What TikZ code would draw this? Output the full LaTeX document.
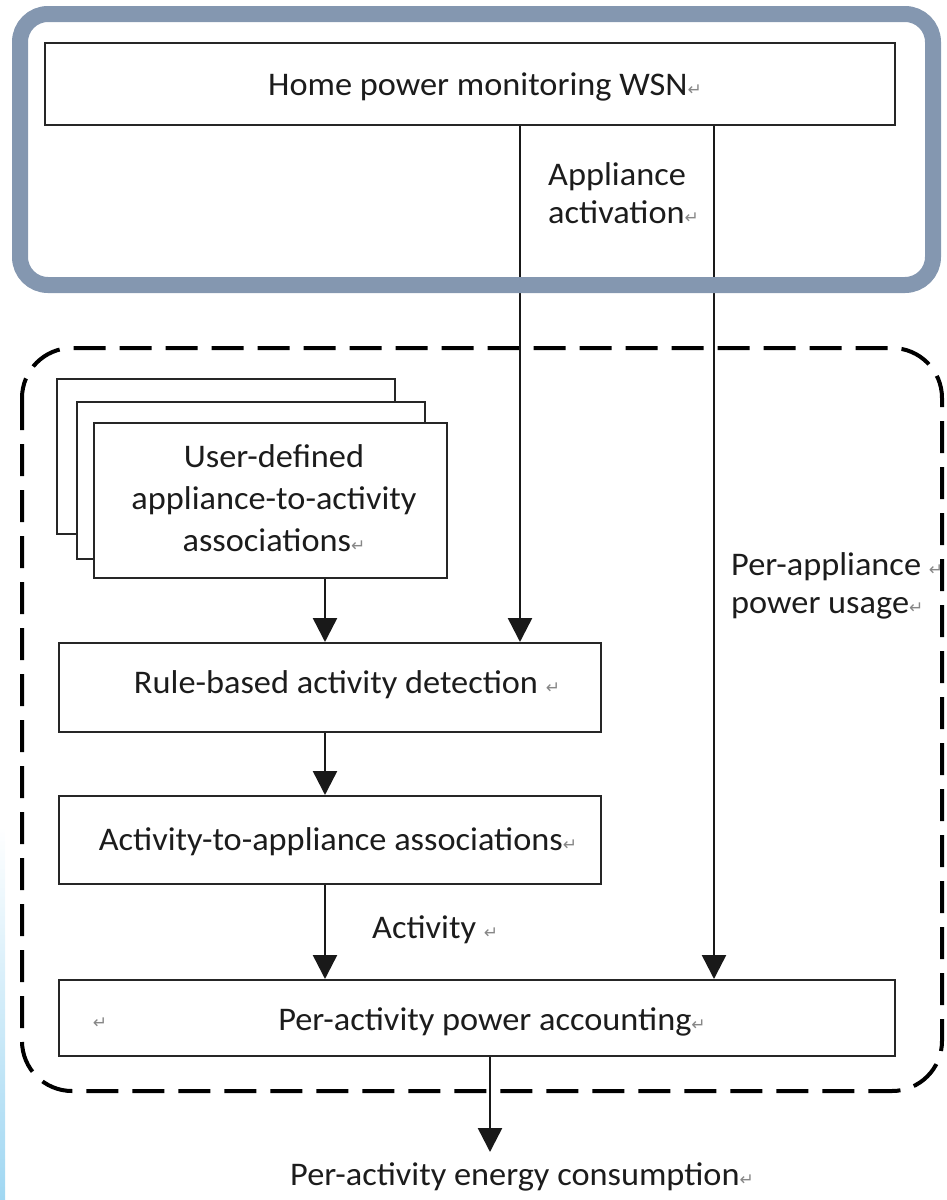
\documentclass[tikz,border=0pt]{standalone}
\usepackage{fontspec}
\setmainfont{Carlito}[FakeStretch=1.04]
\newfontfamily\dvsfont{DejaVu Sans}
\usetikzlibrary{arrows.meta}
\definecolor{frameblue}{RGB}{132,151,176}
\definecolor{markgray}{RGB}{135,135,135}
\definecolor{inkc}{RGB}{28,28,28}
\definecolor{stripblue}{RGB}{160,215,242}
\newcommand\retmark{{\dvsfont\color{markgray}\fontsize{17}{17}\selectfont ↵}}
\begin{document}
\begin{tikzpicture}[x=1pt,y=-1pt,
  box/.style={draw=black!85, line width=2pt, fill=white, inner sep=0pt},
  txt/.style={font=\fontsize{33}{40}\selectfont, inner sep=0pt, text=inkc},
  arr/.style={draw=black!90, line width=2.5pt, -{Triangle[width=24pt,length=24pt]}}]
\useasboundingbox (0,0) rectangle (946,1200);
\shade[top color=white, bottom color=stripblue] (0,827) rectangle (5,1200);

% dashed group frame
\draw[line width=4pt, dash pattern=on 32pt off 14pt, rounded corners=50pt] (22,348) rectangle (942,1091);

% column coordinates
\coordinate (colA) at (325,0);
\coordinate (colB) at (520,0);
\coordinate (colC) at (714,0);
\coordinate (colD) at (490,0);

% boxes
\node[box, minimum width=850pt, minimum height=82pt] (wsn) at (470,84) {};
\node[box, minimum width=338pt, minimum height=155pt] (uback) at (226,456.5) {};
\node[box, minimum width=348pt, minimum height=157pt] (umid) at (251,480.5) {};
\node[box, minimum width=353pt, minimum height=155pt] (ufront) at (270.5,500.5) {};
\node[box, minimum width=542pt, minimum height=89pt] (rule) at (330,687.5) {};
\node[box, minimum width=542pt, minimum height=88pt] (assoc) at (330,840) {};
\node[box, minimum width=836pt, minimum height=76pt] (acct) at (477,1018) {};

% texts
\node[txt, anchor=base] (wsnT) at (485,95) {Home power monitoring WSN\retmark};
\node[txt, anchor=base west, align=left, font=\fontsize{33}{38}\selectfont] (actT) at (548,223) {Appliance\\activation\retmark};
\node[txt, anchor=base, align=center, font=\fontsize{33}{42}\selectfont] (uT) at (274,551) {User-defined\\appliance-to-activity\\associations\retmark};
\node[txt, anchor=base] (ruleT) at (347,693) {Rule-based activity detection \retmark};
\node[txt, anchor=base] (assocT) at (338,850) {Activity-to-appliance associations\retmark};
\node[txt, anchor=base west] (activityT) at (372,938) {Activity \retmark};
\node[txt, anchor=base west, align=left, font=\fontsize{33}{38}\selectfont] (pauT) at (731,613) {Per-appliance \retmark\\power usage\retmark};
\node[txt, anchor=base] (acctM) at (100,1028) {\retmark};
\node[txt, anchor=base] (acctT) at (492,1030) {Per-activity power accounting\retmark};
\node[txt, anchor=base] (outT) at (522,1185) {Per-activity energy consumption\retmark};
\coordinate (outEnd) at (490,1152);

% connectors
\draw[arr] (ufront.south -| colA) -- (rule.north -| colA);
\draw[arr] (wsn.south -| colB) -- (rule.north -| colB);
\draw[arr] (wsn.south -| colC) -- (acct.north -| colC);
\draw[arr] (rule.south -| colA) -- (assoc.north -| colA);
\draw[arr] (assoc.south -| colA) -- (acct.north -| colA);
\draw[arr] (acct.south -| colD) -- (outEnd);

% system frame
\draw[frameblue, line width=16pt, rounded corners=28pt] (20,14) rectangle (933,285);
\end{tikzpicture}
\end{document}
